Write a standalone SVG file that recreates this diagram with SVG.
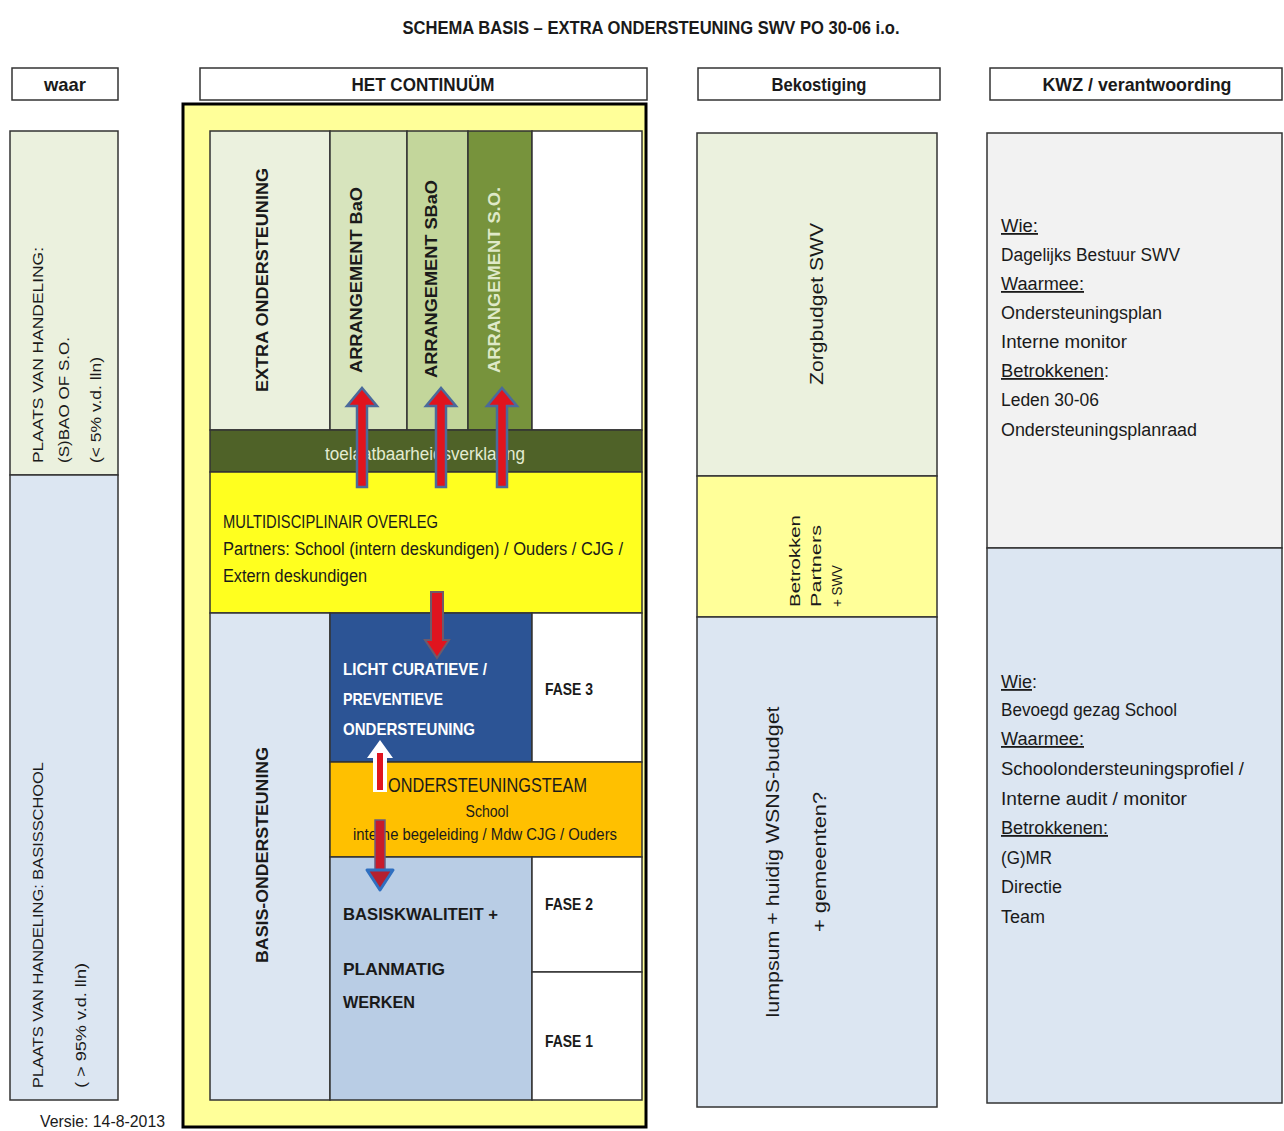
<svg xmlns="http://www.w3.org/2000/svg" width="1284" height="1131" viewBox="0 0 1284 1131">
<style>
.t{font-family:"Liberation Sans",Arial,sans-serif;fill:#1a1a1a}
.b{font-weight:bold}
.hdr{fill:#fff;stroke:#333;stroke-width:1.5}
.cell{stroke:#333;stroke-width:1.5}
.u{text-decoration:underline}
.arrUp{fill:#e0141e;stroke:#4b6a9b;stroke-width:2.5;stroke-linejoin:miter}
</style>
<rect width="1284" height="1131" fill="#fff"/>

<g id="title">
<text class="t b" x="651" y="34" font-size="19" text-anchor="middle" textLength="497" lengthAdjust="spacingAndGlyphs">SCHEMA BASIS – EXTRA ONDERSTEUNING SWV PO 30-06 i.o.</text>
</g>

<g id="hdr-waar">
<rect class="hdr" x="12" y="68" width="106" height="32"/>
<text class="t b" x="65" y="91" font-size="19" text-anchor="middle" textLength="42" lengthAdjust="spacingAndGlyphs">waar</text>
</g>
<g id="hdr-continuum">
<rect class="hdr" x="200" y="68" width="447" height="32"/>
<text class="t b" x="423" y="91" font-size="19" text-anchor="middle" textLength="143" lengthAdjust="spacingAndGlyphs">HET CONTINUÜM</text>
</g>
<g id="hdr-bekostiging">
<rect class="hdr" x="698" y="68" width="242" height="32"/>
<text class="t b" x="819" y="91" font-size="19" text-anchor="middle" textLength="95" lengthAdjust="spacingAndGlyphs">Bekostiging</text>
</g>
<g id="hdr-kwz">
<rect class="hdr" x="990" y="68" width="292" height="32"/>
<text class="t b" x="1137" y="91" font-size="19" text-anchor="middle" textLength="189" lengthAdjust="spacingAndGlyphs">KWZ / verantwoording</text>
</g>

<g id="waar-extra">
<rect class="cell" x="10" y="131" width="108" height="344" fill="#ebf1de"/>
<text class="t" transform="translate(43,463) rotate(-90)" font-size="15" textLength="216" lengthAdjust="spacingAndGlyphs">PLAATS VAN HANDELING:</text>
<text class="t" transform="translate(69,463) rotate(-90)" font-size="15" textLength="126" lengthAdjust="spacingAndGlyphs">(S)BAO  OF  S.O.</text>
<text class="t" transform="translate(101,463) rotate(-90)" font-size="15" textLength="106" lengthAdjust="spacingAndGlyphs">(&lt; 5% v.d. lln)</text>
</g>
<g id="waar-basis">
<rect class="cell" x="10" y="475" width="108" height="625" fill="#dce6f2"/>
<text class="t" transform="translate(43,1088) rotate(-90)" font-size="15" textLength="326" lengthAdjust="spacingAndGlyphs">PLAATS VAN HANDELING: BASISSCHOOL</text>
<text class="t" transform="translate(86,1088) rotate(-90)" font-size="15" textLength="125" lengthAdjust="spacingAndGlyphs">( &gt; 95% v.d. lln)</text>
</g>
<g id="versie">
<text class="t" x="40" y="1127" font-size="17" textLength="125" lengthAdjust="spacingAndGlyphs">Versie: 14-8-2013</text>
</g>

<g id="continuum-frame">
<rect x="183" y="104" width="463" height="1023" fill="#ffff99" stroke="#000" stroke-width="3"/>
</g>

<g id="extra-ondersteuning">
<rect class="cell" x="210" y="131" width="120" height="299" fill="#ebf1de"/>
<text class="t b" transform="translate(268,392) rotate(-90)" font-size="17" textLength="224" lengthAdjust="spacingAndGlyphs">EXTRA ONDERSTEUNING</text>
</g>
<g id="arr-bao">
<rect class="cell" x="330" y="131" width="77" height="299" fill="#d7e4bd"/>
<text class="t b" transform="translate(362,373) rotate(-90)" font-size="17" textLength="186" lengthAdjust="spacingAndGlyphs">ARRANGEMENT BaO</text>
</g>
<g id="arr-sbao">
<rect class="cell" x="407" y="131" width="61" height="299" fill="#c3d69b"/>
<text class="t b" transform="translate(437,378) rotate(-90)" font-size="17" textLength="198" lengthAdjust="spacingAndGlyphs">ARRANGEMENT SBaO</text>
</g>
<g id="arr-so">
<rect class="cell" x="468" y="131" width="64" height="299" fill="#77933c"/>
<text class="t b" transform="translate(500,373) rotate(-90)" font-size="17" style="fill:#dfe9c8" textLength="186" lengthAdjust="spacingAndGlyphs">ARRANGEMENT S.O.</text>
</g>
<g id="empty-top">
<rect class="cell" x="532" y="131" width="110" height="299" fill="#fff"/>
</g>
<g id="toelaatbaarheid">
<rect class="cell" x="210" y="430" width="432" height="42" fill="#4f6228"/>
<text class="t" x="425" y="460" font-size="18" text-anchor="middle" style="fill:#e4ecd2" textLength="200" lengthAdjust="spacingAndGlyphs">toelaatbaarheidsverklaring</text>
</g>
<g id="multidisciplinair">
<rect class="cell" x="210" y="472" width="432" height="141" fill="#ffff1f"/>
<text class="t" x="223" y="528" font-size="18" textLength="215" lengthAdjust="spacingAndGlyphs">MULTIDISCIPLINAIR OVERLEG</text>
<text class="t" x="223" y="555" font-size="18" textLength="400" lengthAdjust="spacingAndGlyphs">Partners: School (intern deskundigen)  / Ouders / CJG /</text>
<text class="t" x="223" y="582" font-size="18" textLength="144" lengthAdjust="spacingAndGlyphs">Extern deskundigen</text>
</g>
<g id="basis-ondersteuning">
<rect class="cell" x="210" y="613" width="120" height="487" fill="#dce6f2"/>
<text class="t b" transform="translate(268,963) rotate(-90)" font-size="17" textLength="216" lengthAdjust="spacingAndGlyphs">BASIS-ONDERSTEUNING</text>
</g>
<g id="licht-curatief">
<rect class="cell" x="330" y="613" width="202" height="149" fill="#2c5495"/>
<text class="t b" x="343" y="675" font-size="17" style="fill:#fff" textLength="144" lengthAdjust="spacingAndGlyphs">LICHT CURATIEVE  /</text>
<text class="t b" x="343" y="705" font-size="17" style="fill:#fff" textLength="100" lengthAdjust="spacingAndGlyphs">PREVENTIEVE</text>
<text class="t b" x="343" y="735" font-size="17" style="fill:#fff" textLength="132" lengthAdjust="spacingAndGlyphs">ONDERSTEUNING</text>
</g>
<g id="fase3">
<rect class="cell" x="532" y="613" width="110" height="149" fill="#fff"/>
<text class="t b" x="545" y="695" font-size="17" textLength="48" lengthAdjust="spacingAndGlyphs">FASE 3</text>
</g>
<g id="ondersteuningsteam">
<rect class="cell" x="330" y="762" width="312" height="95" fill="#ffc000"/>
<text class="t" x="388" y="792" font-size="21" textLength="199" lengthAdjust="spacingAndGlyphs">ONDERSTEUNINGSTEAM</text>
<text class="t" x="487" y="817" font-size="16" text-anchor="middle" textLength="43" lengthAdjust="spacingAndGlyphs">School</text>
<text class="t" x="353" y="840" font-size="16" textLength="264" lengthAdjust="spacingAndGlyphs">interne begeleiding / Mdw CJG / Ouders</text>
</g>
<g id="basiskwaliteit">
<rect class="cell" x="330" y="857" width="202" height="243" fill="#b9cde5"/>
<text class="t b" x="343" y="920" font-size="17" textLength="155" lengthAdjust="spacingAndGlyphs">BASISKWALITEIT  +</text>
<text class="t b" x="343" y="975" font-size="17" textLength="102" lengthAdjust="spacingAndGlyphs">PLANMATIG</text>
<text class="t b" x="343" y="1008" font-size="17" textLength="72" lengthAdjust="spacingAndGlyphs">WERKEN</text>
</g>
<g id="fase2">
<rect class="cell" x="532" y="857" width="110" height="115" fill="#fff"/>
<text class="t b" x="545" y="910" font-size="17" textLength="48" lengthAdjust="spacingAndGlyphs">FASE 2</text>
</g>
<g id="fase1">
<rect class="cell" x="532" y="972" width="110" height="128" fill="#fff"/>
<text class="t b" x="545" y="1047" font-size="17" textLength="48" lengthAdjust="spacingAndGlyphs">FASE 1</text>
</g>

<g id="connectors">
<polygon class="arrUp" points="357,487 367,487 367,406 377,406 362,388 347,406 357,406"/>
<polygon class="arrUp" points="436,487 446,487 446,406 456,406 441,388 426,406 436,406"/>
<polygon class="arrUp" points="497,487 507,487 507,406 517,406 502,388 487,406 497,406"/>
<polygon points="431,592 443,592 443,640 449,640 437,658 425,640 431,640" fill="#e0141e" stroke="#6e5a6a" stroke-width="2"/>
<polygon points="373,792 387,792 387,758 393,758 380,740 367,758 373,758" fill="#fff"/>
<rect x="377" y="753" width="6" height="37" fill="#e0141e"/>
<rect x="375" y="820" width="10" height="52" fill="#c81a2a" stroke="#6a5c80" stroke-width="1.5"/>
<polygon points="367,870 393,870 380,890" fill="#b52030" stroke="#2f6fc0" stroke-width="3" stroke-linejoin="round"/>
</g>

<g id="zorgbudget">
<rect class="cell" x="697" y="133" width="240" height="343" fill="#ebf1de"/>
<text class="t" transform="translate(823,304) rotate(-90)" font-size="18" text-anchor="middle" textLength="162" lengthAdjust="spacingAndGlyphs">Zorgbudget  SWV</text>
</g>
<g id="betrokken-partners">
<rect class="cell" x="697" y="476" width="240" height="141" fill="#ffff99"/>
<text class="t" transform="translate(800,607) rotate(-90)" font-size="15" textLength="92" lengthAdjust="spacingAndGlyphs">Betrokken</text>
<text class="t" transform="translate(821,607) rotate(-90)" font-size="15" textLength="82" lengthAdjust="spacingAndGlyphs">Partners</text>
<text class="t" transform="translate(842,607) rotate(-90)" font-size="15" textLength="42" lengthAdjust="spacingAndGlyphs">+ SWV</text>
</g>
<g id="lumpsum">
<rect class="cell" x="697" y="617" width="240" height="490" fill="#dce6f2"/>
<text class="t" transform="translate(779,862) rotate(-90)" font-size="19" text-anchor="middle" textLength="311" lengthAdjust="spacingAndGlyphs">lumpsum + huidig WSNS-budget</text>
<text class="t" transform="translate(826,862) rotate(-90)" font-size="19" text-anchor="middle" textLength="140" lengthAdjust="spacingAndGlyphs">+ gemeenten?</text>
</g>

<g id="kwz-swv">
<rect class="cell" x="987" y="133" width="295" height="415" fill="#f2f2f2"/>
<text class="t" font-size="18">
<tspan x="1001" y="232" class="u" textLength="37" lengthAdjust="spacingAndGlyphs">Wie:</tspan>
<tspan x="1001" y="261" textLength="179" lengthAdjust="spacingAndGlyphs">Dagelijks Bestuur SWV</tspan>
<tspan x="1001" y="290" class="u" textLength="83" lengthAdjust="spacingAndGlyphs">Waarmee:</tspan>
<tspan x="1001" y="319" textLength="161" lengthAdjust="spacingAndGlyphs">Ondersteuningsplan</tspan>
<tspan x="1001" y="348" textLength="126" lengthAdjust="spacingAndGlyphs">Interne monitor</tspan>
<tspan x="1001" y="377" class="u" textLength="103" lengthAdjust="spacingAndGlyphs">Betrokkenen</tspan><tspan>:</tspan>
<tspan x="1001" y="406" textLength="98" lengthAdjust="spacingAndGlyphs">Leden 30-06</tspan>
<tspan x="1001" y="436" textLength="196" lengthAdjust="spacingAndGlyphs">Ondersteuningsplanraad</tspan>
</text>
</g>
<g id="kwz-school">
<rect class="cell" x="987" y="548" width="295" height="555" fill="#dce6f2"/>
<text class="t" font-size="18">
<tspan x="1001" y="688" class="u" textLength="31" lengthAdjust="spacingAndGlyphs">Wie</tspan><tspan>:</tspan>
<tspan x="1001" y="716" textLength="176" lengthAdjust="spacingAndGlyphs">Bevoegd gezag School</tspan>
<tspan x="1001" y="745" class="u" textLength="83" lengthAdjust="spacingAndGlyphs">Waarmee:</tspan>
<tspan x="1001" y="775" textLength="243" lengthAdjust="spacingAndGlyphs">Schoolondersteuningsprofiel /</tspan>
<tspan x="1001" y="805" textLength="186" lengthAdjust="spacingAndGlyphs">Interne audit / monitor</tspan>
<tspan x="1001" y="834" class="u" textLength="107" lengthAdjust="spacingAndGlyphs">Betrokkenen:</tspan>
<tspan x="1001" y="864" textLength="51" lengthAdjust="spacingAndGlyphs">(G)MR</tspan>
<tspan x="1001" y="893" textLength="61" lengthAdjust="spacingAndGlyphs">Directie</tspan>
<tspan x="1001" y="923" textLength="44" lengthAdjust="spacingAndGlyphs">Team</tspan>
</text>
</g>
</svg>
